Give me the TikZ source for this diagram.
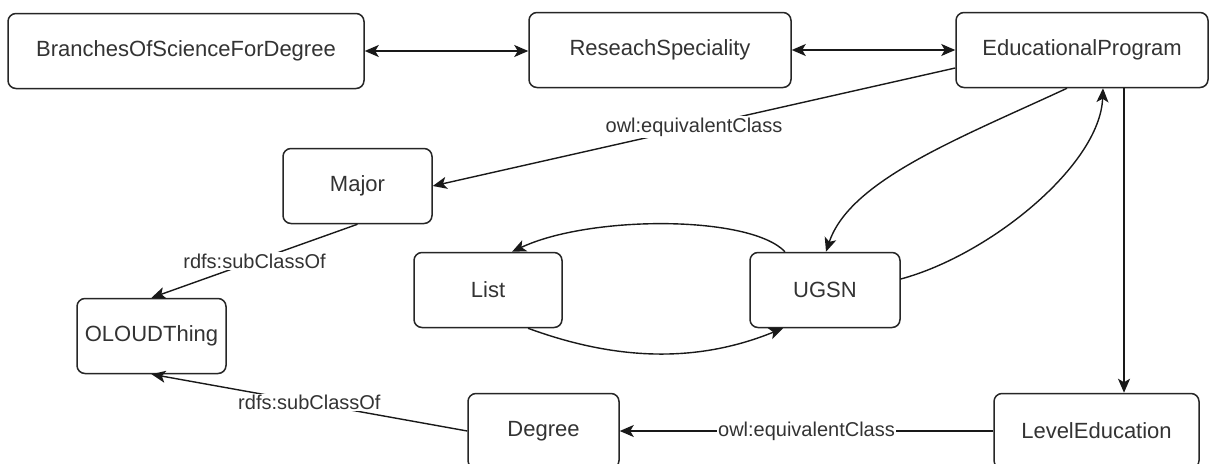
\documentclass[tikz,border=0pt]{standalone}
\usepackage{fontspec}
\setmainfont{Liberation Sans}
\usetikzlibrary{arrows.meta,calc}
\begin{document}
\begin{tikzpicture}[x=1pt,y=-1pt,
  box/.style={draw=black!85, line width=1.5pt, rounded corners=8pt, fill=white,
    minimum width=#1, minimum height=75pt, inner sep=0pt,
    font=\fontsize{22}{26}\selectfont, text=black!80},
  lbl/.style={fill=white, inner sep=1.5pt, font=\fontsize{20}{23}\selectfont, text=black!80},
  arr/.style={line width=1.4pt, draw=black!90, -{Stealth[length=14pt,width=12pt,inset=3.5pt]}},
  dbl/.style={line width=1.4pt, draw=black!90, {Stealth[length=14pt,width=12pt,inset=3.5pt]}-{Stealth[length=14pt,width=12pt,inset=3.5pt]}}]
\useasboundingbox (0,0) rectangle (1209,463);
\clip (0,0) rectangle (1209,463);
\fill[white] (0,0) rectangle (1209,463);
% nodes
\node[box=356pt] (B) at (186,51) {BranchesOfScienceForDegree};
\node[box=262pt] (R) at (660,50) {ReseachSpeciality};
\node[box=252pt] (E) at (1082,50) {EducationalProgram};
\node[box=149pt] (M) at (357.5,186) {Major};
\node[box=148pt] (L) at (488,290) {List};
\node[box=150pt] (U) at (825,290) {UGSN};
\node[box=149pt] (O) at (151.5,336) {OLOUDThing};
\node[box=151pt] (D) at (543.5,431) {Degree};
\node[box=205pt] (LE) at (1096.5,431) {LevelEducation};
% coordinates
\coordinate (e1) at ($(E.west)+(0,18)$);
\coordinate (e2) at ($(E.south)+(42,0)$);
\coordinate (e3) at ($(E.south)+(-15,0)$);
\coordinate (e4) at ($(E.south)+(21,0)$);
\coordinate (u1) at ($(U.east)+(0,-11)$);
\coordinate (u2) at ($(U.north)+(-40,0)$);
\coordinate (u3) at ($(U.south)+(-42,0)$);
\coordinate (u4) at ($(U.north)+(1,0)$);
\coordinate (l1) at ($(L.north)+(24,0)$);
\coordinate (l2) at ($(L.south)+(40,0)$);
% edges
\draw[dbl] (B.east) -- (B.east -| R.west);
\draw[dbl] (R.east) -- (R.east -| E.west);
\draw[arr] (e1) -- node[lbl] {owl:equivalentClass} (M.east);
\draw[arr] (M.south) -- node[lbl] {rdfs:subClassOf} (O.north);
\draw[arr] (D.west) -- node[lbl] {rdfs:subClassOf} (O.south);
\draw[arr] (LE.west) -- node[lbl] {owl:equivalentClass} (D.east);
\draw[arr] (e2) -- (e2 |- LE.north);
\draw[arr] (e3) .. controls (960,138) and (850,180) .. (u4);
\draw[arr] (u1) .. controls (990,255) and (1100,165) .. (e4);
\draw[arr] (u2) .. controls (750,215) and (590,215) .. (l1);
\draw[arr] (l2) .. controls (620,362) and (700,362) .. (u3);
\end{tikzpicture}
\end{document}
